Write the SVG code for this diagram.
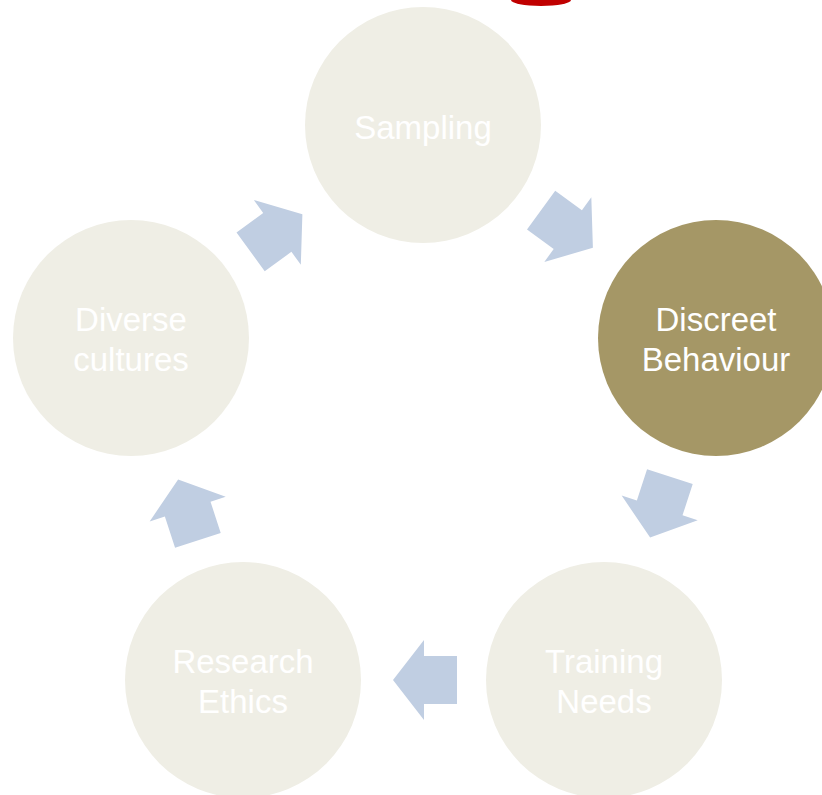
<svg xmlns="http://www.w3.org/2000/svg" width="822" height="795" viewBox="0 0 822 795">
<style>
.c{fill:#efeee5}
.c2{fill:#a59766}
.t{font-family:"Liberation Sans",Arial,sans-serif;font-size:33px;fill:#ffffff;text-anchor:middle}
.a{fill:#c0cee2}
</style>
<defs>
<polygon id="arr" points="-32,-24 1,-24 1,-40 32,0 1,40 1,24 -32,24"/>
</defs>
<rect width="822" height="795" fill="#ffffff"/>
<ellipse cx="541" cy="0" rx="30" ry="6" fill="#c00000"/>
<g id="sampling"><circle class="c" cx="423" cy="125" r="118"/><text class="t" x="423" y="139">Sampling</text></g>
<g id="discreet"><circle class="c2" cx="716" cy="338" r="118"/><text class="t" x="716" y="331">Discreet</text><text class="t" x="716" y="371">Behaviour</text></g>
<g id="training"><circle class="c" cx="604" cy="680" r="118"/><text class="t" x="604" y="673">Training</text><text class="t" x="604" y="713">Needs</text></g>
<g id="research"><circle class="c" cx="243" cy="680" r="118"/><text class="t" x="243" y="673">Research</text><text class="t" x="243" y="713">Ethics</text></g>
<g id="diverse"><circle class="c" cx="131" cy="338" r="118"/><text class="t" x="131" y="331">Diverse</text><text class="t" x="131" y="371">cultures</text></g>
<g id="connectors" class="a">
<use href="#arr" transform="translate(567,229) rotate(36)"/>
<use href="#arr" transform="translate(660,507) rotate(108)"/>
<use href="#arr" transform="translate(425,680) rotate(180)"/>
<use href="#arr" transform="translate(188,510) rotate(252)"/>
<use href="#arr" transform="translate(276.5,233) rotate(324)"/>
</g>
</svg>
